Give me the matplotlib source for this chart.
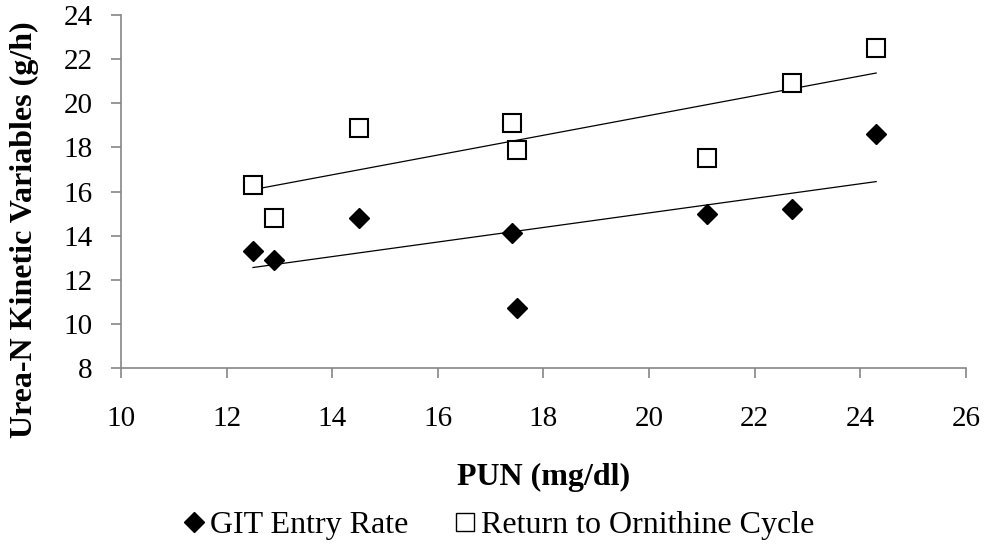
import numpy as np
import matplotlib
matplotlib.use("Agg")
import matplotlib.pyplot as plt

# data
pun = [12.5, 12.9, 14.5, 17.4, 17.5, 21.1, 22.7, 24.3]
git_entry = [13.3, 12.9, 14.8, 14.1, 10.7, 15.0, 15.2, 18.6]
return_orn = [16.3, 14.8, 18.9, 19.1, 17.9, 17.5, 20.9, 22.5]

x_ticks = [10, 12, 14, 16, 18, 20, 22, 24, 26]
y_ticks = [8, 10, 12, 14, 16, 18, 20, 22, 24]

plt.rcParams['font.family'] = ['Liberation Serif', 'DejaVu Serif']

fig = plt.figure(figsize=(9.89, 5.46), dpi=100)
ax = fig.add_axes([0.1223, 0.326, 0.8544, 0.6465])

axis_grey = '#868686'

ax.plot(pun, git_entry, linestyle='none', marker='D', markersize=10,
        color='black', label='GIT Entry Rate', zorder=3)
ax.plot(pun, return_orn, linestyle='none', marker='s', markersize=13,
        markerfacecolor='white', markeredgecolor='black', markeredgewidth=1.5,
        label='Return to Ornithine Cycle', zorder=3)

# linear trend lines over the data range
xs = np.array([min(pun), max(pun)])
for ys in (git_entry, return_orn):
    k, b = np.polyfit(pun, ys, 1)
    ax.plot(xs, k * xs + b, color='black', linewidth=0.9, zorder=2)

ax.set_xlim(10, 26)
ax.set_ylim(8, 24)
ax.set_xticks(x_ticks)
ax.set_yticks(y_ticks)

for side in ('top', 'right'):
    ax.spines[side].set_visible(False)
for side in ('left', 'bottom'):
    ax.spines[side].set_color(axis_grey)
    ax.spines[side].set_linewidth(1.2)

ax.tick_params(axis='both', direction='out', length=7, width=1.2,
               color=axis_grey, labelsize=21, labelcolor='black')
ax.tick_params(axis='x', pad=20)
ax.tick_params(axis='y', pad=13.5)

# axis titles placed like the original
fig.text(544 / 989, 1 - 485 / 546, 'PUN (mg/dl)', fontsize=23, fontweight='bold',
         ha='center', va='baseline')
fig.text(24 / 989, 1 - 230 / 546, 'Urea-N Kinetic Variables (g/h)', fontsize=23,
         fontweight='bold', rotation=90, ha='center', va='center')

leg = fig.legend(loc='center', bbox_to_anchor=(0.505, 1 - 525 / 546), ncol=2,
                 frameon=False, fontsize=23, handlelength=0.6, handletextpad=0.2,
                 columnspacing=1.5, borderaxespad=0, borderpad=0)
leg.legend_handles[1].set_markeredgewidth(1.0)

fig.savefig('out.png', dpi=100)
